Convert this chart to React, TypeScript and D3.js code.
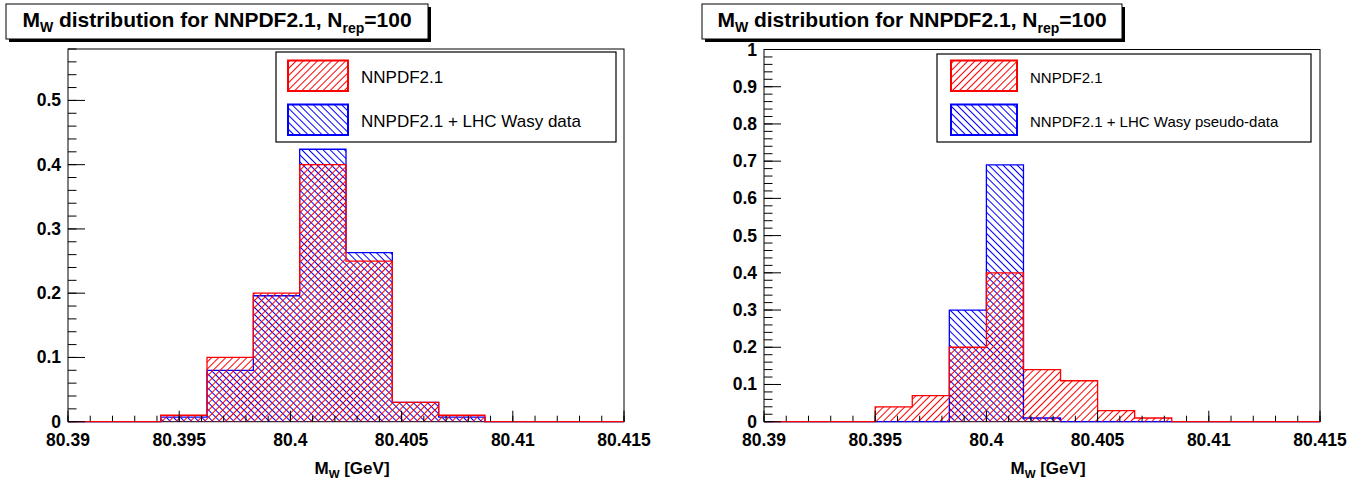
import { useEffect, useRef } from 'react';
import * as d3 from 'd3';

// x axis: M_W in GeV
const xTicks = [80.39, 80.395, 80.4, 80.405, 80.41, 80.415];
const xLabels = ['80.39', '80.395', '80.4', '80.405', '80.41', '80.415'];

// left panel: 12 bins, real data fit
const leftRed = [0, 0, 0.01, 0.1, 0.2, 0.4, 0.25, 0.03, 0.01, 0, 0, 0];
const leftBlue = [0, 0, 0.007, 0.08, 0.196, 0.424, 0.263, 0.03, 0.007, 0, 0, 0];
const leftYTicks = [0, 0.1, 0.2, 0.3, 0.4, 0.5];
const leftYLabels = ['0', '0.1', '0.2', '0.3', '0.4', '0.5'];
const leftLegend = ['NNPDF2.1', 'NNPDF2.1 + LHC Wasy data'];

// right panel: 15 bins, pseudo-data fit
const rightRed = [0, 0, 0, 0.04, 0.07, 0.2, 0.4, 0.14, 0.11, 0.03, 0.01, 0, 0, 0, 0];
const rightBlue = [0, 0, 0, 0, 0, 0.3, 0.69, 0.01, 0, 0, 0, 0, 0, 0, 0];
const rightYTicks = [0, 0.1, 0.2, 0.3, 0.4, 0.5, 0.6, 0.7, 0.8, 0.9, 1];
const rightYLabels = ['0', '0.1', '0.2', '0.3', '0.4', '0.5', '0.6', '0.7', '0.8', '0.9', '1'];
const rightLegend = ['NNPDF2.1', 'NNPDF2.1 + LHC Wasy pseudo-data'];

const FONT = '"Liberation Sans", Arial, Helvetica, sans-serif';

const panels = [
    {
        frame: { x0: 68, x1: 624, y0: 49, y1: 421.7 },
        yMax: 0.58,
        yTicks: leftYTicks, yLabels: leftYLabels,
        red: leftRed, blue: leftBlue,
        title: { x0: 6, x1: 428 },
        legendNames: leftLegend,
        legend: { x0: 276, x1: 616, y0: 52, y1: 142, sx: 288, sw: 60, tx: 361, fs: 17 },
    },
    {
        frame: { x0: 764, x1: 1320, y0: 49.5, y1: 421.7 },
        yMax: 1,
        yTicks: rightYTicks, yLabels: rightYLabels,
        red: rightRed, blue: rightBlue,
        title: { x0: 702, x1: 1122 },
        legendNames: rightLegend,
        legend: { x0: 937, x1: 1311, y0: 54, y1: 142, sx: 951, sw: 66, tx: 1030, fs: 15 },
    },
];

const App = () => {
    const svgRef = useRef<SVGSVGElement>(null);

    useEffect(() => {
        const svg = d3.select(svgRef.current);
        svg.selectAll('*').remove();

        // hatch patterns, red "/" and blue "\"
        const defs = svg.append('defs');
        const hatch = (id: string, color: string, angle: number) => {
            defs.append('pattern')
                .attr('id', id)
                .attr('patternUnits', 'userSpaceOnUse')
                .attr('width', 5)
                .attr('height', 5)
                .attr('patternTransform', `rotate(${angle})`)
                .append('line')
                .attr('x1', 2.5).attr('y1', 0)
                .attr('x2', 2.5).attr('y2', 5)
                .attr('stroke', color)
                .attr('stroke-width', 1);
        };
        hatch('hatchRed', '#ff0000', 45);
        hatch('hatchBlue', '#0000ff', -45);

        panels.forEach(p => {
            const g = svg.append('g');
            const { frame } = p;

            const x = d3.scaleLinear().domain([80.39, 80.415]).range([frame.x0, frame.x1]);
            const y = d3.scaleLinear().domain([0, p.yMax]).range([frame.y1, frame.y0]);

            // frame
            g.append('rect')
                .attr('x', frame.x0).attr('y', frame.y0)
                .attr('width', frame.x1 - frame.x0).attr('height', frame.y1 - frame.y0)
                .attr('fill', 'white').attr('stroke', 'black').attr('stroke-width', 1);

            // histograms, blue first then red on top
            const drawHist = (values: number[], color: string, pat: string) => {
                const n = values.length;
                const edges = d3.range(n + 1).map(i => 80.39 + i * 0.025 / n);
                const pts: [number, number][] = values.map((v, i) => [edges[i], v]);
                pts.push([edges[n], values[n - 1]]);
                const area = d3.area<[number, number]>()
                    .curve(d3.curveStepAfter)
                    .x(d => x(d[0]))
                    .y0(y(0))
                    .y1(d => y(d[1]));
                const line = d3.line<[number, number]>()
                    .curve(d3.curveStepAfter)
                    .x(d => x(d[0]))
                    .y(d => y(d[1]));
                g.append('path').attr('d', area(pts)).attr('fill', `url(#${pat})`);
                g.append('path').attr('d', line(pts))
                    .attr('fill', 'none').attr('stroke', color).attr('stroke-width', 1.3);
            };
            drawHist(p.blue, '#0000ff', 'hatchBlue');
            drawHist(p.red, '#ff0000', 'hatchRed');

            // y ticks
            const yMinor = d3.range(0, Math.round(p.yMax / 0.02) + 1).map(i => i * 0.02).filter(v => v <= p.yMax + 1e-9);
            g.selectAll('.ymin').data(yMinor).enter().append('line')
                .attr('x1', frame.x0).attr('x2', frame.x0 + 8.5)
                .attr('y1', d => y(d)).attr('y2', d => y(d))
                .attr('stroke', 'black');
            g.selectAll('.ymaj').data(p.yTicks).enter().append('line')
                .attr('x1', frame.x0).attr('x2', frame.x0 + 17)
                .attr('y1', d => y(d)).attr('y2', d => y(d))
                .attr('stroke', 'black');
            g.selectAll('.ylab').data(p.yTicks).enter().append('text')
                .attr('x', frame.x0 - 7)
                .attr('y', d => y(d) + 6)
                .attr('text-anchor', 'end')
                .attr('font-family', FONT).attr('font-weight', 'bold').attr('font-size', 17.5)
                .text((d, i) => p.yLabels[i]);

            // x ticks
            const xMinor = d3.range(0, 26).map(i => 80.39 + i * 0.001);
            g.selectAll('.xmin').data(xMinor).enter().append('line')
                .attr('x1', d => x(d)).attr('x2', d => x(d))
                .attr('y1', frame.y1).attr('y2', frame.y1 - 6)
                .attr('stroke', 'black');
            g.selectAll('.xmaj').data(xTicks).enter().append('line')
                .attr('x1', d => x(d)).attr('x2', d => x(d))
                .attr('y1', frame.y1).attr('y2', frame.y1 - 11)
                .attr('stroke', 'black');
            g.selectAll('.xlab').data(xTicks).enter().append('text')
                .attr('x', d => x(d))
                .attr('y', 446)
                .attr('text-anchor', 'middle')
                .attr('font-family', FONT).attr('font-weight', 'bold').attr('font-size', 17.5)
                .text((d, i) => xLabels[i]);

            // x axis title
            const xt = g.append('text')
                .attr('x', (frame.x0 + frame.x1) / 2 + 6)
                .attr('y', 474)
                .attr('text-anchor', 'middle')
                .attr('font-family', FONT).attr('font-weight', 'bold').attr('font-size', 17);
            xt.append('tspan').text('M');
            xt.append('tspan').attr('font-size', 11.5).attr('dy', 4).text('W');
            xt.append('tspan').attr('dy', -4).text(' [GeV]');

            // legend
            const L = p.legend;
            g.append('rect')
                .attr('x', L.x0).attr('y', L.y0)
                .attr('width', L.x1 - L.x0).attr('height', L.y1 - L.y0)
                .attr('fill', 'white').attr('stroke', 'black').attr('stroke-width', 1.2);
            const entries = [
                { name: p.legendNames[0], color: '#ff0000', pat: 'hatchRed' },
                { name: p.legendNames[1], color: '#0000ff', pat: 'hatchBlue' },
            ];
            entries.forEach((e, i) => {
                const sy = 60.5 + i * 44;
                g.append('rect')
                    .attr('x', L.sx).attr('y', sy)
                    .attr('width', L.sw).attr('height', 30.5)
                    .attr('fill', `url(#${e.pat})`)
                    .attr('stroke', e.color).attr('stroke-width', 2);
                g.append('text')
                    .attr('x', L.tx).attr('y', sy + 22)
                    .attr('font-family', FONT).attr('font-size', L.fs)
                    .attr('fill', 'black')
                    .text(e.name);
            });

            // title box with shadow
            const T = p.title;
            g.append('rect')
                .attr('x', T.x0 + 3).attr('y', 7)
                .attr('width', T.x1 - T.x0).attr('height', 35)
                .attr('fill', 'black');
            g.append('rect')
                .attr('x', T.x0).attr('y', 4)
                .attr('width', T.x1 - T.x0).attr('height', 35)
                .attr('fill', 'white').attr('stroke', 'black').attr('stroke-width', 1);
            const tt = g.append('text')
                .attr('x', (T.x0 + T.x1) / 2)
                .attr('y', 26.5)
                .attr('text-anchor', 'middle')
                .attr('font-family', FONT).attr('font-weight', 'bold').attr('font-size', 21);
            tt.append('tspan').text('M');
            tt.append('tspan').attr('font-size', 14).attr('dy', 5).text('W');
            tt.append('tspan').attr('dy', -5).text(' distribution for NNPDF2.1, N');
            tt.append('tspan').attr('font-size', 14).attr('dy', 6).text('rep');
            tt.append('tspan').attr('dy', -6).text('=100');
        });
    }, []);

    return (
        <svg
            ref={svgRef}
            width={1365}
            height={483}
            style={{ position: 'absolute', left: 0, top: 0, background: 'white' }}
        />
    );
};

export default App;
